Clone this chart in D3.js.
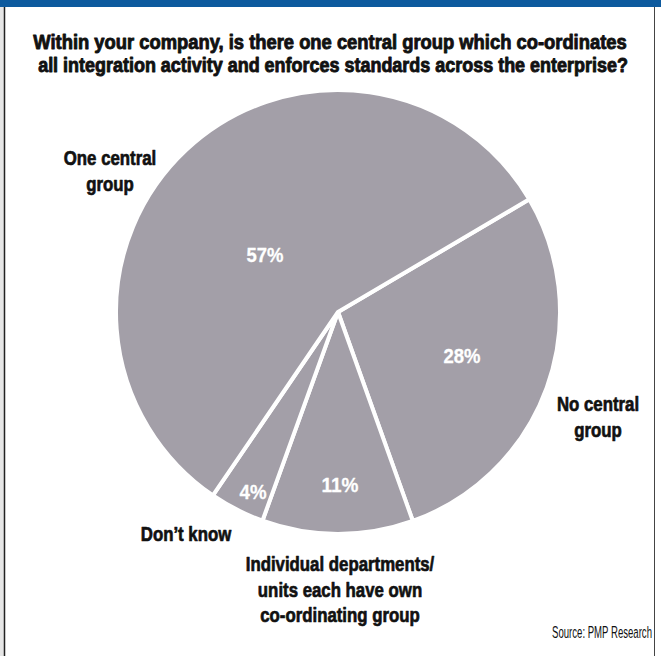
<!DOCTYPE html>
<html><head><meta charset="utf-8">
<script src="https://cdn.jsdelivr.net/npm/d3@7"></script>
<style>
html,body{margin:0;padding:0;background:#fff;}
svg{display:block;}
</style></head>
<body>
<svg id="chart" width="661" height="656"></svg>
<script>
// ---- data ----
const categories = ["No central group", "Individual departments/units each have own co-ordinating group", "Don't know", "One central group"];
const values = [28, 11, 4, 57];
const valueLabels = ["28%", "11%", "4%", "57%"];
const outerLabels = [["No central", "group"], ["Individual departments/", "units each have own", "co-ordinating group"], ["Don\u2019t know"], ["One central", "group"]];
const titleLines = ["Within your company, is there one central group which co-ordinates", "all integration activity and enforces standards across the enterprise?"];
const sourceText = "Source: PMP Research";

// ---- layout (styles only) ----
const W = 661, H = 656;
const cx = 338, cy = 312, R = 222;
const startDeg = 59.5;
const pctPos = [[462, 363], [340, 492], [253, 499], [265, 262]];
const outerPos = [[598, 411], [340, 571], [186, 541], [110, 165]];
const lineH = 25.5;
const FONT = "'Liberation Sans', Arial, sans-serif";
const CONDENSE = 0.82;

const svg = d3.select("#chart");

// helper: horizontally condensed text
function ctext(str, x, y, opts) {
  const g = svg.append("g").attr("transform", `translate(${x},${y})`);
  const fill = opts.fill || "#111";
  const t = g.append("text")
    .attr("text-anchor", opts.anchor || "middle")
    .attr("font-family", FONT)
    .attr("font-weight", opts.weight || "bold")
    .attr("font-size", opts.size)
    .attr("fill", fill)
    .text(str);
  if (opts.heavy) t.attr("stroke", fill).attr("stroke-width", opts.heavy).attr("stroke-linejoin", "round");
  let sx = CONDENSE;
  if (opts.width) sx = opts.width / t.node().getComputedTextLength();
  g.attr("transform", `translate(${x},${y}) scale(${sx},1)`);
  return t;
}

// frame
svg.append("rect").attr("x", 0).attr("y", 0).attr("width", 4).attr("height", H).attr("fill", "#e6e6e6");
svg.append("rect").attr("x", 0).attr("y", 0).attr("width", W).attr("height", 7).attr("fill", "#0d5a9e");
svg.append("line").attr("x1", 4.5).attr("x2", 4.5).attr("y1", 7).attr("y2", H).attr("stroke", "#222").attr("stroke-width", 1.5);
svg.append("line").attr("x1", 654.5).attr("x2", 654.5).attr("y1", 7).attr("y2", H).attr("stroke", "#444").attr("stroke-width", 1);

// title
ctext(titleLines[0], 330, 49, {size: 20, width: 594, heavy: 0.9});
ctext(titleLines[1], 333, 72, {size: 20, width: 590, heavy: 0.9});

// pie
const toRad = d => d * Math.PI / 180;
const pie = d3.pie().sort(null).value(d => d)
  .startAngle(toRad(startDeg)).endAngle(toRad(startDeg + 360));
const arcs = pie(values);
const arc = d3.arc().innerRadius(0).outerRadius(R);

const g = svg.append("g").attr("transform", `translate(${cx},${cy})`);
g.selectAll("path").data(arcs).join("path")
  .attr("d", arc)
  .attr("fill", "#a39fa8")
  .attr("stroke", "#fff").attr("stroke-width", 4).attr("stroke-linejoin", "round");

// percentage labels
valueLabels.forEach((s, i) => ctext(s, pctPos[i][0], pctPos[i][1], {size: 21, fill: "#fff", width: i === 2 ? 27 : 37, heavy: 0.3}));

// outer labels
outerLabels.forEach((lines, i) => {
  lines.forEach((l, j) => ctext(l, outerPos[i][0], outerPos[i][1] + j * lineH, {size: 20.5, heavy: 0.7}));
});

// source
ctext(sourceText, 652, 638, {size: 17, weight: "normal", anchor: "end", width: 100});
</script>
</body></html>
